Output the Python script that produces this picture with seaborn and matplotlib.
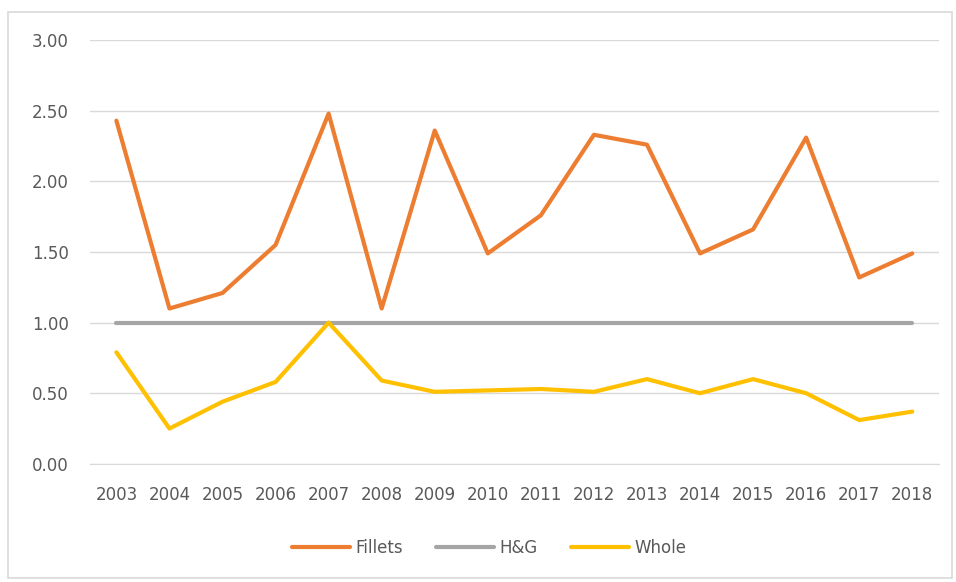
import matplotlib
matplotlib.use("Agg")
import matplotlib.pyplot as plt
import pandas as pd
import seaborn as sns
from matplotlib.patches import Rectangle

years = [str(y) for y in range(2003, 2019)]
fillets = [2.43, 1.10, 1.21, 1.55, 2.48, 1.10, 2.36, 1.49, 1.76, 2.33, 2.26, 1.49, 1.66, 2.31, 1.32, 1.49]
hg = [1.00] * 16
whole = [0.79, 0.25, 0.44, 0.58, 1.00, 0.59, 0.51, 0.52, 0.53, 0.51, 0.60, 0.50, 0.60, 0.50, 0.31, 0.37]
series_names = ["Fillets", "H&G", "Whole"]
colors = ["#ED7D31", "#A5A5A5", "#FFC000"]

df = pd.DataFrame({"Year": years * 3,
                   "Value": fillets + hg + whole,
                   "Series": [s for s in series_names for _ in years]})

sns.set_style("white")
plt.rcParams["font.family"] = ["DejaVu Sans"]

fig = plt.figure(figsize=(9.56, 5.82), dpi=100)
ax = fig.add_axes([0.094, 0.203, 0.888, 0.728])

sns.lineplot(data=df, x="Year", y="Value", hue="Series", palette=colors,
             linewidth=3.0, ax=ax, sort=False)
for line in ax.lines:
    line.set_solid_capstyle("round")

ax.set_xlim(-0.5, len(years) - 0.5)
ax.set_ylim(0, 3.0)
ax.set_yticks([0, 0.5, 1.0, 1.5, 2.0, 2.5, 3.0])
ax.set_yticklabels([f"{v:.2f}" for v in ax.get_yticks()])
ax.yaxis.grid(True, color="#D9D9D9", linewidth=1)
ax.set_axisbelow(True)
for side in ["top", "right", "left"]:
    ax.spines[side].set_visible(False)
ax.spines["bottom"].set_color("#D9D9D9")
ax.tick_params(axis="both", length=0, labelsize=12, labelcolor="#595959")
ax.tick_params(axis="x", pad=16)
ax.tick_params(axis="y", pad=15)
ax.set_xlabel("")
ax.set_ylabel("")

leg = ax.legend(loc="center", bbox_to_anchor=(0.47, -0.198), ncol=3, frameon=False,
                fontsize=12, handlelength=3.5, handletextpad=0.3, columnspacing=2.0)
for t in leg.get_texts():
    t.set_color("#595959")
for h in leg.get_lines():
    h.set_linewidth(3.0)

fig.patches.append(Rectangle((8 / 956, 4 / 582), 944 / 956, 566 / 582, transform=fig.transFigure,
                             fill=False, edgecolor="#D9D9D9", linewidth=1.2))

fig.savefig("out.png", dpi=100)
